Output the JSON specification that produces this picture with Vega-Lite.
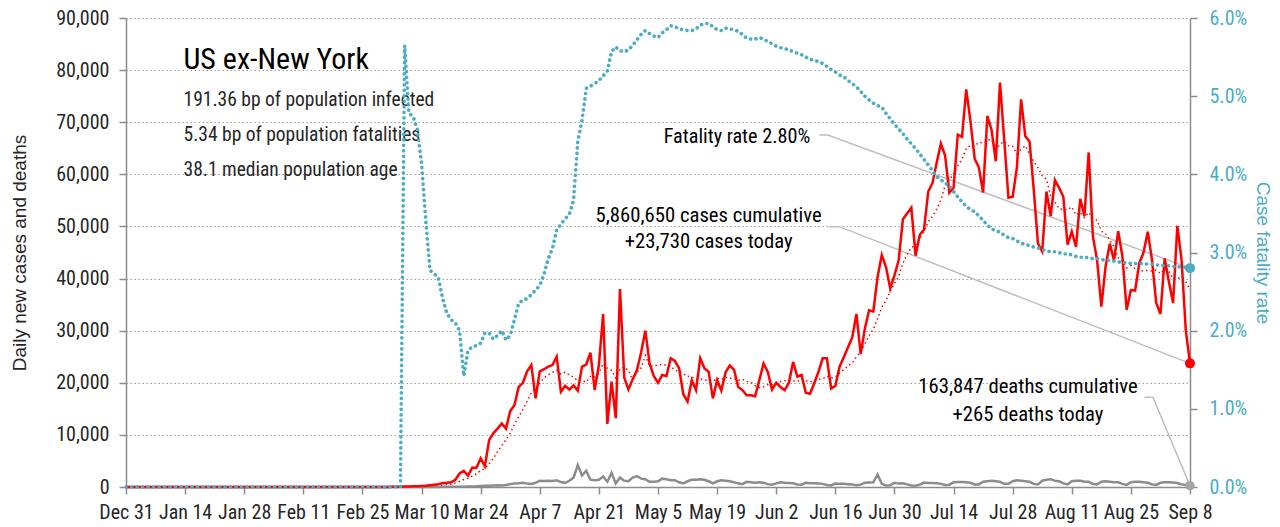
{
  "$schema": "https://vega.github.io/schema/vega-lite/v6.json",
  "width": 1064,
  "height": 469,
  "autosize": {"type": "none"},
  "padding": {"left": 126, "top": 18, "right": 90, "bottom": 40},
  "background": "white",
  "config": {
    "view": {"stroke": null},
    "font": "Roboto Condensed, Liberation Sans Narrow, Liberation Sans, sans-serif",
    "axis": {
      "grid": false,
      "labelFont": "Roboto Condensed, Liberation Sans Narrow, Liberation Sans, sans-serif",
      "labelFontSize": 20,
      "labelColor": "#262626",
      "titleFont": "Liberation Sans, Arial, sans-serif",
      "titleFontSize": 19,
      "titleFontWeight": "normal",
      "titleColor": "#262626",
      "domainColor": "#8c8c8c",
      "domainWidth": 1.5,
      "tickColor": "#8c8c8c",
      "tickWidth": 1.5,
      "tickSize": 7
    },
    "axisLeft": {"grid": true, "gridDash": [1.5, 2.5], "gridColor": "#a0a0a0", "gridWidth": 1.2, "labelPadding": 10, "titlePadding": 26},
    "axisRight": {"grid": false, "labelColor": "#4bacc6", "titleColor": "#4bacc6", "labelPadding": 12, "titlePadding": 6},
    "axisBottom": {"grid": false, "labelPadding": 8}
  },
  "datasets": {
    "daily": [
      {"date":"2019-12-31","cases":0,"avg7":0,"deaths":0,"rate":0},
      {"date":"2020-01-01","cases":0,"avg7":0,"deaths":0,"rate":0},
      {"date":"2020-01-02","cases":0,"avg7":0,"deaths":0,"rate":0},
      {"date":"2020-01-03","cases":0,"avg7":0,"deaths":0,"rate":0},
      {"date":"2020-01-04","cases":0,"avg7":0,"deaths":0,"rate":0},
      {"date":"2020-01-05","cases":0,"avg7":0,"deaths":0,"rate":0},
      {"date":"2020-01-06","cases":0,"avg7":0,"deaths":0,"rate":0},
      {"date":"2020-01-07","cases":0,"avg7":0,"deaths":0,"rate":0},
      {"date":"2020-01-08","cases":0,"avg7":0,"deaths":0,"rate":0},
      {"date":"2020-01-09","cases":0,"avg7":0,"deaths":0,"rate":0},
      {"date":"2020-01-10","cases":0,"avg7":0,"deaths":0,"rate":0},
      {"date":"2020-01-11","cases":0,"avg7":0,"deaths":0,"rate":0},
      {"date":"2020-01-12","cases":0,"avg7":0,"deaths":0,"rate":0},
      {"date":"2020-01-13","cases":0,"avg7":0,"deaths":0,"rate":0},
      {"date":"2020-01-14","cases":0,"avg7":0,"deaths":0,"rate":0},
      {"date":"2020-01-15","cases":0,"avg7":0,"deaths":0,"rate":0},
      {"date":"2020-01-16","cases":0,"avg7":0,"deaths":0,"rate":0},
      {"date":"2020-01-17","cases":0,"avg7":0,"deaths":0,"rate":0},
      {"date":"2020-01-18","cases":0,"avg7":0,"deaths":0,"rate":0},
      {"date":"2020-01-19","cases":0,"avg7":0,"deaths":0,"rate":0},
      {"date":"2020-01-20","cases":0,"avg7":0,"deaths":0,"rate":0},
      {"date":"2020-01-21","cases":0,"avg7":0,"deaths":0,"rate":0},
      {"date":"2020-01-22","cases":1,"avg7":0,"deaths":0,"rate":0},
      {"date":"2020-01-23","cases":0,"avg7":0,"deaths":0,"rate":0},
      {"date":"2020-01-24","cases":0,"avg7":0,"deaths":0,"rate":0},
      {"date":"2020-01-25","cases":0,"avg7":0,"deaths":0,"rate":0},
      {"date":"2020-01-26","cases":0,"avg7":0,"deaths":0,"rate":0},
      {"date":"2020-01-27","cases":0,"avg7":0,"deaths":0,"rate":0},
      {"date":"2020-01-28","cases":0,"avg7":0,"deaths":0,"rate":0},
      {"date":"2020-01-29","cases":0,"avg7":0,"deaths":0,"rate":0},
      {"date":"2020-01-30","cases":0,"avg7":0,"deaths":0,"rate":0},
      {"date":"2020-01-31","cases":0,"avg7":0,"deaths":0,"rate":0},
      {"date":"2020-02-01","cases":0,"avg7":0,"deaths":0,"rate":0},
      {"date":"2020-02-02","cases":1,"avg7":0,"deaths":0,"rate":0},
      {"date":"2020-02-03","cases":0,"avg7":0,"deaths":0,"rate":0},
      {"date":"2020-02-04","cases":0,"avg7":0,"deaths":0,"rate":0},
      {"date":"2020-02-05","cases":0,"avg7":0,"deaths":0,"rate":0},
      {"date":"2020-02-06","cases":0,"avg7":0,"deaths":0,"rate":0},
      {"date":"2020-02-07","cases":0,"avg7":0,"deaths":0,"rate":0},
      {"date":"2020-02-08","cases":0,"avg7":0,"deaths":0,"rate":0},
      {"date":"2020-02-09","cases":0,"avg7":0,"deaths":0,"rate":0},
      {"date":"2020-02-10","cases":0,"avg7":0,"deaths":0,"rate":0},
      {"date":"2020-02-11","cases":0,"avg7":0,"deaths":0,"rate":0},
      {"date":"2020-02-12","cases":0,"avg7":0,"deaths":0,"rate":0},
      {"date":"2020-02-13","cases":0,"avg7":0,"deaths":0,"rate":0},
      {"date":"2020-02-14","cases":0,"avg7":0,"deaths":0,"rate":0},
      {"date":"2020-02-15","cases":0,"avg7":0,"deaths":0,"rate":0},
      {"date":"2020-02-16","cases":0,"avg7":0,"deaths":0,"rate":0},
      {"date":"2020-02-17","cases":0,"avg7":0,"deaths":0,"rate":0},
      {"date":"2020-02-18","cases":0,"avg7":0,"deaths":0,"rate":0},
      {"date":"2020-02-19","cases":0,"avg7":0,"deaths":0,"rate":0},
      {"date":"2020-02-20","cases":0,"avg7":0,"deaths":0,"rate":0},
      {"date":"2020-02-21","cases":0,"avg7":0,"deaths":0,"rate":0},
      {"date":"2020-02-22","cases":0,"avg7":0,"deaths":0,"rate":0},
      {"date":"2020-02-23","cases":1,"avg7":0,"deaths":0,"rate":0},
      {"date":"2020-02-24","cases":0,"avg7":0,"deaths":0,"rate":0},
      {"date":"2020-02-25","cases":2,"avg7":1,"deaths":0,"rate":0},
      {"date":"2020-02-26","cases":3,"avg7":1,"deaths":0,"rate":0},
      {"date":"2020-02-27","cases":0,"avg7":1,"deaths":0,"rate":0},
      {"date":"2020-02-28","cases":5,"avg7":2,"deaths":0,"rate":0},
      {"date":"2020-02-29","cases":6,"avg7":2,"deaths":0,"rate":0},
      {"date":"2020-03-01","cases":10,"avg7":4,"deaths":0,"rate":0},
      {"date":"2020-03-02","cases":20,"avg7":6,"deaths":0,"rate":0},
      {"date":"2020-03-03","cases":25,"avg7":9,"deaths":0,"rate":0},
      {"date":"2020-03-04","cases":40,"avg7":14,"deaths":1,"rate":0},
      {"date":"2020-03-05","cases":60,"avg7":22,"deaths":2,"rate":0},
      {"date":"2020-03-06","cases":80,"avg7":34,"deaths":1,"rate":0.0565},
      {"date":"2020-03-07","cases":110,"avg7":49,"deaths":2,"rate":0.0478},
      {"date":"2020-03-08","cases":140,"avg7":68,"deaths":3,"rate":0.0474},
      {"date":"2020-03-09","cases":160,"avg7":88,"deaths":5,"rate":0.0457},
      {"date":"2020-03-10","cases":200,"avg7":113,"deaths":8,"rate":0.0414},
      {"date":"2020-03-11","cases":250,"avg7":143,"deaths":10,"rate":0.0341},
      {"date":"2020-03-12","cases":350,"avg7":184,"deaths":12,"rate":0.0277},
      {"date":"2020-03-13","cases":450,"avg7":237,"deaths":15,"rate":0.0273},
      {"date":"2020-03-14","cases":550,"avg7":300,"deaths":20,"rate":0.0267},
      {"date":"2020-03-15","cases":750,"avg7":387,"deaths":25,"rate":0.0241},
      {"date":"2020-03-16","cases":800,"avg7":479,"deaths":35,"rate":0.0222},
      {"date":"2020-03-17","cases":900,"avg7":579,"deaths":40,"rate":0.0214},
      {"date":"2020-03-18","cases":1400,"avg7":743,"deaths":50,"rate":0.0210},
      {"date":"2020-03-19","cases":2600,"avg7":1064,"deaths":60,"rate":0.0200},
      {"date":"2020-03-20","cases":3100,"avg7":1443,"deaths":70,"rate":0.0142},
      {"date":"2020-03-21","cases":2200,"avg7":1679,"deaths":80,"rate":0.0175},
      {"date":"2020-03-22","cases":3700,"avg7":2100,"deaths":100,"rate":0.0179},
      {"date":"2020-03-23","cases":3700,"avg7":2514,"deaths":130,"rate":0.0181},
      {"date":"2020-03-24","cases":5500,"avg7":3171,"deaths":180,"rate":0.0184},
      {"date":"2020-03-25","cases":4000,"avg7":3543,"deaths":220,"rate":0.0197},
      {"date":"2020-03-26","cases":9000,"avg7":4457,"deaths":250,"rate":0.0197},
      {"date":"2020-03-27","cases":10300,"avg7":5486,"deaths":300,"rate":0.0189},
      {"date":"2020-03-28","cases":11200,"avg7":6771,"deaths":350,"rate":0.0194},
      {"date":"2020-03-29","cases":12200,"avg7":7986,"deaths":300,"rate":0.0200},
      {"date":"2020-03-30","cases":11200,"avg7":9057,"deaths":400,"rate":0.0188},
      {"date":"2020-03-31","cases":14600,"avg7":10357,"deaths":550,"rate":0.0194},
      {"date":"2020-04-01","cases":15700,"avg7":12029,"deaths":650,"rate":0.0214},
      {"date":"2020-04-02","cases":19200,"avg7":13486,"deaths":700,"rate":0.0235},
      {"date":"2020-04-03","cases":20000,"avg7":14871,"deaths":800,"rate":0.0239},
      {"date":"2020-04-04","cases":22200,"avg7":16443,"deaths":650,"rate":0.0241},
      {"date":"2020-04-05","cases":23400,"avg7":18043,"deaths":600,"rate":0.0246},
      {"date":"2020-04-06","cases":17000,"avg7":18871,"deaths":800,"rate":0.0252},
      {"date":"2020-04-07","cases":22200,"avg7":19957,"deaths":1200,"rate":0.0258},
      {"date":"2020-04-08","cases":22600,"avg7":20943,"deaths":1150,"rate":0.0272},
      {"date":"2020-04-09","cases":23100,"avg7":21500,"deaths":1200,"rate":0.0292},
      {"date":"2020-04-10","cases":23400,"avg7":21986,"deaths":1150,"rate":0.0305},
      {"date":"2020-04-11","cases":25000,"avg7":22386,"deaths":1300,"rate":0.0329},
      {"date":"2020-04-12","cases":18300,"avg7":21657,"deaths":950,"rate":0.0336},
      {"date":"2020-04-13","cases":19400,"avg7":22000,"deaths":800,"rate":0.0343},
      {"date":"2020-04-14","cases":18700,"avg7":21500,"deaths":1200,"rate":0.0349},
      {"date":"2020-04-15","cases":19500,"avg7":21057,"deaths":1800,"rate":0.0367},
      {"date":"2020-04-16","cases":18500,"avg7":20400,"deaths":4200,"rate":0.0442},
      {"date":"2020-04-17","cases":23100,"avg7":20357,"deaths":2200,"rate":0.0469},
      {"date":"2020-04-18","cases":23500,"avg7":20143,"deaths":3100,"rate":0.0510},
      {"date":"2020-04-19","cases":25800,"avg7":21214,"deaths":1400,"rate":0.0513},
      {"date":"2020-04-20","cases":18600,"avg7":21100,"deaths":1300,"rate":0.0516},
      {"date":"2020-04-21","cases":23400,"avg7":21771,"deaths":1400,"rate":0.0520},
      {"date":"2020-04-22","cases":33200,"avg7":23729,"deaths":2000,"rate":0.0526},
      {"date":"2020-04-23","cases":12100,"avg7":22814,"deaths":1000,"rate":0.0532},
      {"date":"2020-04-24","cases":20200,"avg7":22400,"deaths":2700,"rate":0.0557},
      {"date":"2020-04-25","cases":13200,"avg7":20929,"deaths":700,"rate":0.0563},
      {"date":"2020-04-26","cases":38000,"avg7":22671,"deaths":1800,"rate":0.0558},
      {"date":"2020-04-27","cases":21000,"avg7":23014,"deaths":1200,"rate":0.0557},
      {"date":"2020-04-28","cases":18700,"avg7":22343,"deaths":1100,"rate":0.0559},
      {"date":"2020-04-29","cases":20700,"avg7":20557,"deaths":1800,"rate":0.0565},
      {"date":"2020-04-30","cases":22400,"avg7":22029,"deaths":2100,"rate":0.0572},
      {"date":"2020-05-01","cases":25800,"avg7":22829,"deaths":1600,"rate":0.0579},
      {"date":"2020-05-02","cases":30000,"avg7":25229,"deaths":1500,"rate":0.0584},
      {"date":"2020-05-03","cases":23700,"avg7":23186,"deaths":1000,"rate":0.0580},
      {"date":"2020-05-04","cases":21300,"avg7":23229,"deaths":1000,"rate":0.0577},
      {"date":"2020-05-05","cases":20000,"avg7":23414,"deaths":1100,"rate":0.0575},
      {"date":"2020-05-06","cases":21500,"avg7":23529,"deaths":1600,"rate":0.0581},
      {"date":"2020-05-07","cases":21300,"avg7":23371,"deaths":1500,"rate":0.0585},
      {"date":"2020-05-08","cases":24700,"avg7":23214,"deaths":1300,"rate":0.0590},
      {"date":"2020-05-09","cases":24200,"avg7":22386,"deaths":1300,"rate":0.0589},
      {"date":"2020-05-10","cases":22800,"avg7":22257,"deaths":900,"rate":0.0586},
      {"date":"2020-05-11","cases":17800,"avg7":21757,"deaths":700,"rate":0.0585},
      {"date":"2020-05-12","cases":16400,"avg7":21243,"deaths":1100,"rate":0.0584},
      {"date":"2020-05-13","cases":20500,"avg7":21100,"deaths":1400,"rate":0.0584},
      {"date":"2020-05-14","cases":18600,"avg7":20714,"deaths":1400,"rate":0.0586},
      {"date":"2020-05-15","cases":24700,"avg7":20714,"deaths":1500,"rate":0.0591},
      {"date":"2020-05-16","cases":22800,"avg7":20514,"deaths":1400,"rate":0.0593},
      {"date":"2020-05-17","cases":22100,"avg7":20414,"deaths":1100,"rate":0.0593},
      {"date":"2020-05-18","cases":17000,"avg7":20300,"deaths":700,"rate":0.0589},
      {"date":"2020-05-19","cases":20500,"avg7":20886,"deaths":1100,"rate":0.0585},
      {"date":"2020-05-20","cases":18500,"avg7":20600,"deaths":1300,"rate":0.0584},
      {"date":"2020-05-21","cases":22000,"avg7":21086,"deaths":1200,"rate":0.0587},
      {"date":"2020-05-22","cases":23300,"avg7":20886,"deaths":1100,"rate":0.0586},
      {"date":"2020-05-23","cases":22500,"avg7":20843,"deaths":900,"rate":0.0585},
      {"date":"2020-05-24","cases":19200,"avg7":20429,"deaths":700,"rate":0.0583},
      {"date":"2020-05-25","cases":18600,"avg7":20657,"deaths":550,"rate":0.0579},
      {"date":"2020-05-26","cases":17600,"avg7":20243,"deaths":1000,"rate":0.0574},
      {"date":"2020-05-27","cases":17600,"avg7":20114,"deaths":900,"rate":0.0573},
      {"date":"2020-05-28","cases":17400,"avg7":19457,"deaths":800,"rate":0.0573},
      {"date":"2020-05-29","cases":20500,"avg7":19057,"deaths":900,"rate":0.0575},
      {"date":"2020-05-30","cases":23700,"avg7":19229,"deaths":800,"rate":0.0573},
      {"date":"2020-05-31","cases":22100,"avg7":19643,"deaths":550,"rate":0.0570},
      {"date":"2020-06-01","cases":18700,"avg7":19657,"deaths":450,"rate":0.0567},
      {"date":"2020-06-02","cases":20000,"avg7":20000,"deaths":700,"rate":0.0564},
      {"date":"2020-06-03","cases":19200,"avg7":20229,"deaths":900,"rate":0.0562},
      {"date":"2020-06-04","cases":18600,"avg7":20400,"deaths":800,"rate":0.0561},
      {"date":"2020-06-05","cases":20000,"avg7":20329,"deaths":750,"rate":0.0559},
      {"date":"2020-06-06","cases":24000,"avg7":20371,"deaths":700,"rate":0.0557},
      {"date":"2020-06-07","cases":21200,"avg7":20243,"deaths":500,"rate":0.0555},
      {"date":"2020-06-08","cases":21500,"avg7":20643,"deaths":450,"rate":0.0553},
      {"date":"2020-06-09","cases":18100,"avg7":20371,"deaths":800,"rate":0.0550},
      {"date":"2020-06-10","cases":17900,"avg7":20186,"deaths":700,"rate":0.0547},
      {"date":"2020-06-11","cases":19900,"avg7":20371,"deaths":700,"rate":0.0546},
      {"date":"2020-06-12","cases":22100,"avg7":20671,"deaths":650,"rate":0.0544},
      {"date":"2020-06-13","cases":24700,"avg7":20771,"deaths":600,"rate":0.0542},
      {"date":"2020-06-14","cases":24700,"avg7":21271,"deaths":400,"rate":0.0538},
      {"date":"2020-06-15","cases":18900,"avg7":20900,"deaths":300,"rate":0.0534},
      {"date":"2020-06-16","cases":19400,"avg7":21086,"deaths":650,"rate":0.0531},
      {"date":"2020-06-17","cases":23100,"avg7":21829,"deaths":600,"rate":0.0527},
      {"date":"2020-06-18","cases":24900,"avg7":22543,"deaths":600,"rate":0.0525},
      {"date":"2020-06-19","cases":26800,"avg7":23214,"deaths":550,"rate":0.0520},
      {"date":"2020-06-20","cases":28700,"avg7":23786,"deaths":500,"rate":0.0516},
      {"date":"2020-06-21","cases":33200,"avg7":25000,"deaths":350,"rate":0.0512},
      {"date":"2020-06-22","cases":25500,"avg7":25943,"deaths":450,"rate":0.0506},
      {"date":"2020-06-23","cases":30400,"avg7":27514,"deaths":800,"rate":0.0500},
      {"date":"2020-06-24","cases":33900,"avg7":29057,"deaths":850,"rate":0.0495},
      {"date":"2020-06-25","cases":33700,"avg7":30314,"deaths":900,"rate":0.0491},
      {"date":"2020-06-26","cases":40300,"avg7":32243,"deaths":2400,"rate":0.0488},
      {"date":"2020-06-27","cases":44500,"avg7":34500,"deaths":600,"rate":0.0486},
      {"date":"2020-06-28","cases":42200,"avg7":35786,"deaths":300,"rate":0.0478},
      {"date":"2020-06-29","cases":38100,"avg7":37586,"deaths":350,"rate":0.0471},
      {"date":"2020-06-30","cases":40600,"avg7":39043,"deaths":800,"rate":0.0464},
      {"date":"2020-07-01","cases":43500,"avg7":40414,"deaths":650,"rate":0.0458},
      {"date":"2020-07-02","cases":51400,"avg7":42943,"deaths":700,"rate":0.0452},
      {"date":"2020-07-03","cases":52500,"avg7":44686,"deaths":500,"rate":0.0445},
      {"date":"2020-07-04","cases":53600,"avg7":45986,"deaths":300,"rate":0.0439},
      {"date":"2020-07-05","cases":44400,"avg7":46300,"deaths":250,"rate":0.0433},
      {"date":"2020-07-06","cases":48400,"avg7":47771,"deaths":450,"rate":0.0426},
      {"date":"2020-07-07","cases":49400,"avg7":49029,"deaths":850,"rate":0.0419},
      {"date":"2020-07-08","cases":56700,"avg7":50914,"deaths":750,"rate":0.0412},
      {"date":"2020-07-09","cases":58300,"avg7":51900,"deaths":750,"rate":0.0405},
      {"date":"2020-07-10","cases":62200,"avg7":53286,"deaths":700,"rate":0.0397},
      {"date":"2020-07-11","cases":65900,"avg7":55043,"deaths":600,"rate":0.0393},
      {"date":"2020-07-12","cases":63600,"avg7":57786,"deaths":400,"rate":0.0389},
      {"date":"2020-07-13","cases":56500,"avg7":58943,"deaths":450,"rate":0.0385},
      {"date":"2020-07-14","cases":57400,"avg7":60086,"deaths":900,"rate":0.0378},
      {"date":"2020-07-15","cases":67600,"avg7":61643,"deaths":950,"rate":0.0371},
      {"date":"2020-07-16","cases":67200,"avg7":62914,"deaths":950,"rate":0.0365},
      {"date":"2020-07-17","cases":76300,"avg7":64929,"deaths":900,"rate":0.0359},
      {"date":"2020-07-18","cases":70200,"avg7":65543,"deaths":800,"rate":0.0355},
      {"date":"2020-07-19","cases":63000,"avg7":65457,"deaths":500,"rate":0.0352},
      {"date":"2020-07-20","cases":61300,"avg7":66143,"deaths":500,"rate":0.0347},
      {"date":"2020-07-21","cases":56500,"avg7":66014,"deaths":1000,"rate":0.0341},
      {"date":"2020-07-22","cases":71200,"avg7":66529,"deaths":1100,"rate":0.0335},
      {"date":"2020-07-23","cases":68500,"avg7":66714,"deaths":1200,"rate":0.0330},
      {"date":"2020-07-24","cases":62500,"avg7":64743,"deaths":1100,"rate":0.0328},
      {"date":"2020-07-25","cases":77600,"avg7":65800,"deaths":1000,"rate":0.0326},
      {"date":"2020-07-26","cases":66600,"avg7":66314,"deaths":600,"rate":0.0322},
      {"date":"2020-07-27","cases":55500,"avg7":65486,"deaths":600,"rate":0.0319},
      {"date":"2020-07-28","cases":55700,"avg7":65371,"deaths":1100,"rate":0.0318},
      {"date":"2020-07-29","cases":61300,"avg7":63957,"deaths":1300,"rate":0.0315},
      {"date":"2020-07-30","cases":74400,"avg7":64800,"deaths":1200,"rate":0.0312},
      {"date":"2020-07-31","cases":67300,"avg7":65486,"deaths":1100,"rate":0.0310},
      {"date":"2020-08-01","cases":66300,"avg7":63871,"deaths":1000,"rate":0.0309},
      {"date":"2020-08-02","cases":57000,"avg7":62500,"deaths":600,"rate":0.0307},
      {"date":"2020-08-03","cases":46700,"avg7":61243,"deaths":500,"rate":0.0306},
      {"date":"2020-08-04","cases":45200,"avg7":59743,"deaths":1200,"rate":0.0304},
      {"date":"2020-08-05","cases":56700,"avg7":59086,"deaths":1400,"rate":0.0302},
      {"date":"2020-08-06","cases":52000,"avg7":55886,"deaths":1500,"rate":0.0301},
      {"date":"2020-08-07","cases":58900,"avg7":54686,"deaths":1200,"rate":0.0301},
      {"date":"2020-08-08","cases":57400,"avg7":53414,"deaths":1100,"rate":0.0300},
      {"date":"2020-08-09","cases":55700,"avg7":53229,"deaths":700,"rate":0.0298},
      {"date":"2020-08-10","cases":46500,"avg7":53200,"deaths":500,"rate":0.0298},
      {"date":"2020-08-11","cases":49000,"avg7":53743,"deaths":1100,"rate":0.0297},
      {"date":"2020-08-12","cases":46100,"avg7":52229,"deaths":1200,"rate":0.0295},
      {"date":"2020-08-13","cases":55300,"avg7":52700,"deaths":1200,"rate":0.0294},
      {"date":"2020-08-14","cases":52000,"avg7":51714,"deaths":1000,"rate":0.0294},
      {"date":"2020-08-15","cases":64200,"avg7":52686,"deaths":1000,"rate":0.0293},
      {"date":"2020-08-16","cases":48100,"avg7":51600,"deaths":600,"rate":0.0292},
      {"date":"2020-08-17","cases":43500,"avg7":51171,"deaths":500,"rate":0.0292},
      {"date":"2020-08-18","cases":34600,"avg7":49114,"deaths":1000,"rate":0.0291},
      {"date":"2020-08-19","cases":42300,"avg7":48571,"deaths":1100,"rate":0.0290},
      {"date":"2020-08-20","cases":46700,"avg7":47343,"deaths":1000,"rate":0.0290},
      {"date":"2020-08-21","cases":43500,"avg7":46129,"deaths":900,"rate":0.0289},
      {"date":"2020-08-22","cases":49100,"avg7":43971,"deaths":900,"rate":0.0288},
      {"date":"2020-08-23","cases":44200,"avg7":43414,"deaths":600,"rate":0.0287},
      {"date":"2020-08-24","cases":34000,"avg7":42057,"deaths":400,"rate":0.0287},
      {"date":"2020-08-25","cases":37800,"avg7":42514,"deaths":900,"rate":0.0286},
      {"date":"2020-08-26","cases":37700,"avg7":41857,"deaths":1000,"rate":0.0286},
      {"date":"2020-08-27","cases":43000,"avg7":41329,"deaths":1000,"rate":0.0286},
      {"date":"2020-08-28","cases":45000,"avg7":41543,"deaths":900,"rate":0.0286},
      {"date":"2020-08-29","cases":49000,"avg7":41529,"deaths":800,"rate":0.0285},
      {"date":"2020-08-30","cases":43600,"avg7":41443,"deaths":500,"rate":0.0285},
      {"date":"2020-08-31","cases":35300,"avg7":41629,"deaths":400,"rate":0.0284},
      {"date":"2020-09-01","cases":33200,"avg7":40971,"deaths":800,"rate":0.0284},
      {"date":"2020-09-02","cases":43900,"avg7":41857,"deaths":900,"rate":0.0283},
      {"date":"2020-09-03","cases":39400,"avg7":41343,"deaths":900,"rate":0.0283},
      {"date":"2020-09-04","cases":35300,"avg7":39957,"deaths":850,"rate":0.0282},
      {"date":"2020-09-05","cases":50100,"avg7":40114,"deaths":750,"rate":0.0282},
      {"date":"2020-09-06","cases":43600,"avg7":40114,"deaths":500,"rate":0.0281},
      {"date":"2020-09-07","cases":30100,"avg7":39371,"deaths":400,"rate":0.0281},
      {"date":"2020-09-08","cases":23730,"avg7":38014,"deaths":265,"rate":0.0280}
    ],
    "latest": [
      {"date":"2020-09-08","cases":23730,"deaths":265,"rate":0.028}
    ],
    "heading": [
      {"date":"2020-01-13T15:00:00Z","value":80170,"label":"US ex-New York"}
    ],
    "facts": [
      {"date":"2020-01-13T15:00:00Z","value":73130,"label":"191.36 bp of population infected"},
      {"date":"2020-01-13T15:00:00Z","value":66470,"label":"5.34 bp of population fatalities"},
      {"date":"2020-01-13T15:00:00Z","value":59750,"label":"38.1 median population age"}
    ],
    "rateNote": [
      {"date":"2020-06-10T01:00:00Z","value":66090,"label":"Fatality rate 2.80%"}
    ],
    "centerNotes": [
      {"date":"2020-05-17T00:00:00Z","value":50920,"label":"5,860,650 cases cumulative"},
      {"date":"2020-05-17T00:00:00Z","value":45810,"label":"+23,730 cases today"},
      {"date":"2020-07-31T15:00:00Z","value":18100,"label":"163,847 deaths cumulative"},
      {"date":"2020-07-31T15:00:00Z","value":12730,"label":"+265 deaths today"}
    ],
    "leaders": [
      {"leader":"rate","step":1,"date":"2020-06-12T05:00:00Z","value":67560},
      {"leader":"rate","step":2,"date":"2020-06-14T05:00:00Z","value":67560},
      {"leader":"rate","step":3,"date":"2020-09-08T00:00:00Z","value":42000},
      {"leader":"cases","step":1,"date":"2020-06-14T12:00:00Z","value":49960},
      {"leader":"cases","step":2,"date":"2020-06-16T22:00:00Z","value":49960},
      {"leader":"cases","step":3,"date":"2020-09-08T00:00:00Z","value":23730},
      {"leader":"deaths","step":1,"date":"2020-08-28T05:00:00Z","value":17220},
      {"leader":"deaths","step":2,"date":"2020-08-30T05:00:00Z","value":17220},
      {"leader":"deaths","step":3,"date":"2020-09-08T00:00:00Z","value":265}
    ]
  },
  "layer": [
    {
      "layer": [
        {
          "data": {"name": "leaders"},
          "mark": {"type": "line", "color": "#bfbfbf", "strokeWidth": 1.5},
          "encoding": {
            "x": {"field": "date", "type": "temporal", "scale": {"type": "utc", "domain": [{"year": 2019, "month": 12, "date": 31, "utc": true}, {"year": 2020, "month": 9, "date": 8, "utc": true}]}, "axis": {"title": null, "values": [{"year":2019,"month":12,"date":31,"utc":true},{"year":2020,"month":1,"date":14,"utc":true},{"year":2020,"month":1,"date":28,"utc":true},{"year":2020,"month":2,"date":11,"utc":true},{"year":2020,"month":2,"date":25,"utc":true},{"year":2020,"month":3,"date":10,"utc":true},{"year":2020,"month":3,"date":24,"utc":true},{"year":2020,"month":4,"date":7,"utc":true},{"year":2020,"month":4,"date":21,"utc":true},{"year":2020,"month":5,"date":5,"utc":true},{"year":2020,"month":5,"date":19,"utc":true},{"year":2020,"month":6,"date":2,"utc":true},{"year":2020,"month":6,"date":16,"utc":true},{"year":2020,"month":6,"date":30,"utc":true},{"year":2020,"month":7,"date":14,"utc":true},{"year":2020,"month":7,"date":28,"utc":true},{"year":2020,"month":8,"date":11,"utc":true},{"year":2020,"month":8,"date":25,"utc":true},{"year":2020,"month":9,"date":8,"utc":true}], "labelExpr": "utcFormat(datum.value, '%b %-d')", "labelOverlap": false, "labelFlush": false}},
            "y": {"field": "value", "type": "quantitative", "scale": {"domain": [0, 90000], "nice": false}, "axis": {"title": "Daily new cases and deaths", "values": [0,10000,20000,30000,40000,50000,60000,70000,80000,90000], "labelExpr": "format(datum.value, ',')"}},
            "detail": {"field": "leader"},
            "order": {"field": "step"}
          }
        },
        {
          "data": {"name": "daily"},
          "mark": {"type": "line", "color": "#ff0000", "strokeWidth": 1.5, "strokeDash": [1.5, 3]},
          "encoding": {
            "x": {"field": "date", "type": "temporal", "scale": {"type": "utc", "domain": [{"year": 2019, "month": 12, "date": 31, "utc": true}, {"year": 2020, "month": 9, "date": 8, "utc": true}]}},
            "y": {"field": "avg7", "type": "quantitative", "scale": {"domain": [0, 90000], "nice": false}, "axis": {"title": "Daily new cases and deaths", "values": [0,10000,20000,30000,40000,50000,60000,70000,80000,90000], "labelExpr": "format(datum.value, ',')"}}
          }
        },
        {
          "data": {"name": "daily"},
          "mark": {"type": "line", "color": "#8c8c8c", "strokeWidth": 2.5},
          "encoding": {
            "x": {"field": "date", "type": "temporal", "scale": {"type": "utc", "domain": [{"year": 2019, "month": 12, "date": 31, "utc": true}, {"year": 2020, "month": 9, "date": 8, "utc": true}]}},
            "y": {"field": "deaths", "type": "quantitative", "scale": {"domain": [0, 90000], "nice": false}, "axis": {"title": "Daily new cases and deaths", "values": [0,10000,20000,30000,40000,50000,60000,70000,80000,90000], "labelExpr": "format(datum.value, ',')"}}
          }
        },
        {
          "data": {"name": "daily"},
          "mark": {"type": "line", "color": "#ff0000", "strokeWidth": 2.5},
          "encoding": {
            "x": {"field": "date", "type": "temporal", "scale": {"type": "utc", "domain": [{"year": 2019, "month": 12, "date": 31, "utc": true}, {"year": 2020, "month": 9, "date": 8, "utc": true}]}},
            "y": {"field": "cases", "type": "quantitative", "scale": {"domain": [0, 90000], "nice": false}, "axis": {"title": "Daily new cases and deaths", "values": [0,10000,20000,30000,40000,50000,60000,70000,80000,90000], "labelExpr": "format(datum.value, ',')"}}
          }
        },
        {
          "data": {"name": "latest"},
          "mark": {"type": "circle", "color": "#a6a6a6", "opacity": 1, "size": 90},
          "encoding": {
            "x": {"field": "date", "type": "temporal", "scale": {"type": "utc", "domain": [{"year": 2019, "month": 12, "date": 31, "utc": true}, {"year": 2020, "month": 9, "date": 8, "utc": true}]}},
            "y": {"field": "deaths", "type": "quantitative", "scale": {"domain": [0, 90000], "nice": false}, "axis": {"title": "Daily new cases and deaths", "values": [0,10000,20000,30000,40000,50000,60000,70000,80000,90000], "labelExpr": "format(datum.value, ',')"}}
          }
        },
        {
          "data": {"name": "latest"},
          "mark": {"type": "circle", "color": "#ff0000", "opacity": 1, "size": 100},
          "encoding": {
            "x": {"field": "date", "type": "temporal", "scale": {"type": "utc", "domain": [{"year": 2019, "month": 12, "date": 31, "utc": true}, {"year": 2020, "month": 9, "date": 8, "utc": true}]}},
            "y": {"field": "cases", "type": "quantitative", "scale": {"domain": [0, 90000], "nice": false}, "axis": {"title": "Daily new cases and deaths", "values": [0,10000,20000,30000,40000,50000,60000,70000,80000,90000], "labelExpr": "format(datum.value, ',')"}}
          }
        },
        {
          "data": {"name": "heading"},
          "mark": {"type": "text", "align": "left", "baseline": "alphabetic", "fontSize": 30, "color": "#000000"},
          "encoding": {
            "x": {"field": "date", "type": "temporal", "scale": {"type": "utc", "domain": [{"year": 2019, "month": 12, "date": 31, "utc": true}, {"year": 2020, "month": 9, "date": 8, "utc": true}]}},
            "y": {"field": "value", "type": "quantitative", "scale": {"domain": [0, 90000], "nice": false}, "axis": {"title": "Daily new cases and deaths", "values": [0,10000,20000,30000,40000,50000,60000,70000,80000,90000], "labelExpr": "format(datum.value, ',')"}},
            "text": {"field": "label"}
          }
        },
        {
          "data": {"name": "facts"},
          "mark": {"type": "text", "align": "left", "baseline": "alphabetic", "fontSize": 19.5, "color": "#262626"},
          "encoding": {
            "x": {"field": "date", "type": "temporal", "scale": {"type": "utc", "domain": [{"year": 2019, "month": 12, "date": 31, "utc": true}, {"year": 2020, "month": 9, "date": 8, "utc": true}]}},
            "y": {"field": "value", "type": "quantitative", "scale": {"domain": [0, 90000], "nice": false}, "axis": {"title": "Daily new cases and deaths", "values": [0,10000,20000,30000,40000,50000,60000,70000,80000,90000], "labelExpr": "format(datum.value, ',')"}},
            "text": {"field": "label"}
          }
        },
        {
          "data": {"name": "rateNote"},
          "mark": {"type": "text", "align": "right", "baseline": "alphabetic", "fontSize": 20.2, "color": "#000000"},
          "encoding": {
            "x": {"field": "date", "type": "temporal", "scale": {"type": "utc", "domain": [{"year": 2019, "month": 12, "date": 31, "utc": true}, {"year": 2020, "month": 9, "date": 8, "utc": true}]}},
            "y": {"field": "value", "type": "quantitative", "scale": {"domain": [0, 90000], "nice": false}, "axis": {"title": "Daily new cases and deaths", "values": [0,10000,20000,30000,40000,50000,60000,70000,80000,90000], "labelExpr": "format(datum.value, ',')"}},
            "text": {"field": "label"}
          }
        },
        {
          "data": {"name": "centerNotes"},
          "mark": {"type": "text", "align": "center", "baseline": "alphabetic", "fontSize": 20.7, "color": "#000000"},
          "encoding": {
            "x": {"field": "date", "type": "temporal", "scale": {"type": "utc", "domain": [{"year": 2019, "month": 12, "date": 31, "utc": true}, {"year": 2020, "month": 9, "date": 8, "utc": true}]}},
            "y": {"field": "value", "type": "quantitative", "scale": {"domain": [0, 90000], "nice": false}, "axis": {"title": "Daily new cases and deaths", "values": [0,10000,20000,30000,40000,50000,60000,70000,80000,90000], "labelExpr": "format(datum.value, ',')"}},
            "text": {"field": "label"}
          }
        }
      ]
    },
    {
      "layer": [
        {
          "data": {"name": "daily"},
          "mark": {"type": "line", "color": "#4bacc6", "strokeWidth": 3.6, "strokeDash": [0.1, 5.4], "strokeCap": "round"},
          "encoding": {
            "x": {"field": "date", "type": "temporal", "scale": {"type": "utc", "domain": [{"year": 2019, "month": 12, "date": 31, "utc": true}, {"year": 2020, "month": 9, "date": 8, "utc": true}]}},
            "y": {"field": "rate", "type": "quantitative", "scale": {"domain": [0, 0.06], "nice": false}, "axis": {"orient": "right", "title": "Case fatality rate", "values": [0, 0.01, 0.02, 0.03, 0.04, 0.05, 0.06], "format": ".1%"}}
          }
        },
        {
          "data": {"name": "latest"},
          "mark": {"type": "circle", "color": "#4bacc6", "opacity": 1, "size": 100},
          "encoding": {
            "x": {"field": "date", "type": "temporal", "scale": {"type": "utc", "domain": [{"year": 2019, "month": 12, "date": 31, "utc": true}, {"year": 2020, "month": 9, "date": 8, "utc": true}]}},
            "y": {"field": "rate", "type": "quantitative", "scale": {"domain": [0, 0.06], "nice": false}, "axis": {"orient": "right", "title": "Case fatality rate", "values": [0, 0.01, 0.02, 0.03, 0.04, 0.05, 0.06], "format": ".1%"}}
          }
        }
      ]
    }
  ],
  "resolve": {"scale": {"y": "independent"}}
}
